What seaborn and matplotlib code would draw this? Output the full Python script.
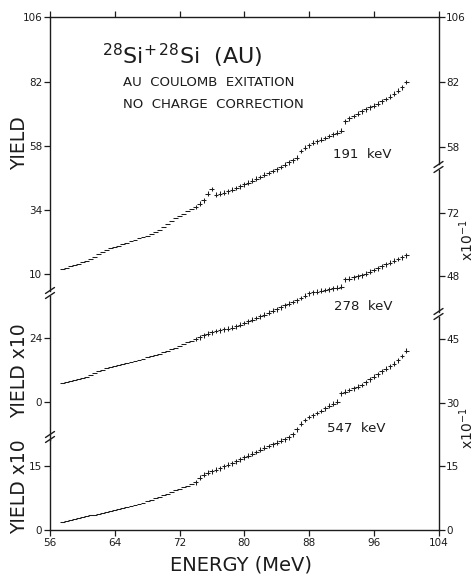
import numpy as np
import pandas as pd
import matplotlib
matplotlib.use("Agg")
import matplotlib.pyplot as plt
from matplotlib.lines import Line2D
import seaborn as sns

# ---------------- data ----------------
energy = [57.5, 58.0, 58.5, 59.0, 59.5, 60.0, 60.5, 61.0, 61.5, 62.0,
          62.5, 63.0, 63.5, 64.0, 64.5, 65.0, 65.5, 66.0, 66.5, 67.0,
          67.5, 68.0, 68.5, 69.0, 69.5, 70.0, 70.5, 71.0, 71.5, 72.0,
          72.5, 73.0, 73.5, 74.0, 74.5, 75.0, 75.5, 76.0, 76.5, 77.0,
          77.5, 78.0, 78.5, 79.0, 79.5, 80.0, 80.5, 81.0, 81.5, 82.0,
          82.5, 83.0, 83.5, 84.0, 84.5, 85.0, 85.5, 86.0, 86.5, 87.0,
          87.5, 88.0, 88.5, 89.0, 89.5, 90.0, 90.5, 91.0, 91.5, 92.0,
          92.5, 93.0, 93.5, 94.0, 94.5, 95.0, 95.5, 96.0, 96.5, 97.0,
          97.5, 98.0, 98.5, 99.0, 99.5, 100.0]

yield_191 = [11.8, 12.3, 12.9, 13.4, 13.8, 14.5, 15.0, 15.6, 16.4, 17.3,
             18.2, 19.0, 19.6, 20.1, 20.6, 21.2, 21.6, 22.2, 22.7, 23.3,
             23.8, 24.4, 25.0, 25.6, 26.6, 27.7, 28.8, 29.8, 30.8, 31.7,
             32.5, 33.4, 34.2, 35.1, 36.3, 37.5, 40.0, 41.8, 39.6, 40.0,
             40.4, 40.9, 41.5, 42.2, 42.8, 43.5, 44.2, 44.9, 45.6, 46.3,
             47.1, 47.8, 48.5, 49.2, 50.0, 50.9, 51.8, 52.6, 53.5, 56.0,
             57.2, 58.2, 59.1, 59.7, 60.3, 60.9, 61.6, 62.2, 62.9, 63.6,
             67.2, 68.2, 69.1, 70.0, 70.8, 71.6, 72.3, 73.0, 73.7, 74.6,
             75.5, 76.4, 77.4, 78.5, 79.8, 81.8]

yield_278 = [7.3, 7.6, 7.9, 8.3, 8.7, 9.1, 9.5, 10.2, 10.9, 11.5,
             12.0, 12.6, 13.0, 13.4, 13.8, 14.2, 14.5, 14.9, 15.3, 15.8,
             16.2, 16.7, 17.1, 17.6, 18.1, 18.6, 19.2, 19.7, 20.3, 20.9,
             21.7, 22.4, 23.0, 23.6, 24.3, 25.0, 25.6, 26.2, 26.6, 26.9,
             27.2, 27.5, 27.8, 28.4, 29.0, 29.6, 30.2, 30.9, 31.5, 32.1,
             32.8, 33.5, 34.2, 34.8, 35.5, 36.2, 36.9, 37.5, 38.2, 39.0,
             39.9, 40.7, 41.1, 41.4, 41.7, 42.0, 42.3, 42.6, 42.9, 43.3,
             46.0, 46.3, 46.7, 47.1, 47.5, 48.1, 48.8, 49.5, 50.2, 50.9,
             51.6, 52.3, 53.0, 53.6, 54.2, 55.0]

yield_547 = [1.9, 2.1, 2.3, 2.5, 2.7, 3.0, 3.2, 3.4, 3.6, 3.8,
             4.0, 4.3, 4.5, 4.8, 5.0, 5.2, 5.4, 5.6, 5.9, 6.1,
             6.4, 6.7, 7.1, 7.4, 7.7, 8.1, 8.5, 8.9, 9.3, 9.7,
             10.1, 10.4, 10.8, 11.2, 12.3, 13.0, 13.4, 13.8, 14.1, 14.5,
             14.9, 15.3, 15.6, 16.1, 16.6, 17.0, 17.4, 17.9, 18.3, 18.8,
             19.3, 19.7, 20.1, 20.5, 20.9, 21.3, 21.7, 22.4, 23.6, 24.9,
             25.8, 26.5, 26.9, 27.4, 27.9, 28.5, 29.1, 29.6, 30.1, 32.0,
             32.4, 32.8, 33.2, 33.6, 34.0, 34.6, 35.3, 35.9, 36.5, 37.2,
             37.8, 38.4, 39.0, 39.8, 40.8, 42.0]

x_ticks = [56, 64, 72, 80, 88, 96, 104]
top_left_ticks = [10, 34, 58, 82, 106]
top_right_ticks = [58, 82, 106]
mid_left_ticks = [0, 24]
mid_right_ticks = [48, 72]
bot_left_ticks = [0, 15]
bot_right_ticks = [0, 15, 30, 45]

# ---------------- layout ----------------
W, H = 476, 575
L, R, T, B = 50.0, 438.5, 17.0, 530.0
INK = "#1c1c1c"
sns.set_theme(style="white")
plt.rcParams["font.family"] = ["DejaVu Sans"]
plt.rcParams["mathtext.fontset"] = "dejavusans"

fig = plt.figure(figsize=(W / 100, H / 100), dpi=100)
fig.patch.set_facecolor("white")
pos = [L / W, 1 - B / H, (R - L) / W, (B - T) / H]


def lim_from(py1, v1, py2, v2):
    s = (v1 - v2) / (py2 - py1)
    return (v1 - (B - py1) * s, v1 + (py1 - T) * s)


def val_at(lim, py):
    return lim[0] + (B - py) / (B - T) * (lim[1] - lim[0])


def side_axis(name, ylim, side, ticks, ybreak_lo, ybreak_hi):
    ax = fig.add_axes(pos, label=name)
    ax.set_xlim(56, 104)
    ax.set_ylim(*ylim)
    ax.patch.set_visible(False)
    for k, sp in ax.spines.items():
        sp.set_visible(k == side)
        sp.set_color(INK)
        sp.set_linewidth(1.0)
    lo = ylim[0] if ybreak_lo is None else val_at(ylim, ybreak_lo)
    hi = ylim[1] if ybreak_hi is None else val_at(ylim, ybreak_hi)
    ax.spines[side].set_bounds(lo, hi)
    ax.yaxis.set_ticks_position(side)
    ax.set_yticks(ticks)
    ax.set_yticklabels([str(t) for t in ticks])
    ax.set_xticks([])
    ax.tick_params(axis="y", direction="out", length=4, width=0.9,
                   labelsize=7.5, pad=1.5, colors=INK)
    ax.grid(False)
    return ax


# frame with x axis (top and bottom spines)
axx = fig.add_axes(pos, label="xframe")
axx.set_xlim(56, 104)
axx.set_ylim(0, 1)
axx.patch.set_visible(False)
for k, sp in axx.spines.items():
    sp.set_visible(k in ("top", "bottom"))
    sp.set_color(INK)
    sp.set_linewidth(1.0)
axx.set_xticks(x_ticks)
axx.set_xticklabels([str(t) for t in x_ticks])
axx.set_yticks([])
axx.xaxis.set_ticks_position("both")
axx.tick_params(axis="x", direction="out", length=4, width=0.9,
                labelsize=7.5, pad=2, colors=INK, top=True, labeltop=False)

gap = 2.5
lim_tl = lim_from(274, 10, 17.4, 106)
lim_tr = lim_from(17.4, 106, 147, 58)
lim_ml = lim_from(338, 24, 402, 0)
lim_mr = lim_from(213, 72, 276, 48)
lim_bl = lim_from(466, 15, 530, 0)
lim_br = lim_from(339, 45, 530, 0)

ax_tl = side_axis("tl", lim_tl, "left", top_left_ticks, 293 - gap, None)
ax_tr = side_axis("tr", lim_tr, "right", top_right_ticks, 167 - gap, None)
ax_ml = side_axis("ml", lim_ml, "left", mid_left_ticks, 437 + gap, 293 + gap)
ax_mr = side_axis("mr", lim_mr, "right", mid_right_ticks, 314 - gap, 167 + gap)
ax_bl = side_axis("bl", lim_bl, "left", bot_left_ticks, None, 437 + gap)
ax_br = side_axis("br", lim_br, "right", bot_right_ticks, None, 314 + gap)

# ---------------- data marks ----------------
for ax, vals, lim in ((ax_tl, yield_191, lim_tl),
                      (ax_ml, yield_278, lim_ml),
                      (ax_bl, yield_547, lim_bl)):
    df = pd.DataFrame({"E": energy, "Y": vals})
    df["kind"] = np.where(df["E"] < 74, "dash", "cross")
    sns.scatterplot(data=df, x="E", y="Y", style="kind",
                    markers={"dash": "_", "cross": "+"}, s=12,
                    color=INK, linewidth=0.75, legend=False, ax=ax)
    ax.set_xlim(56, 104)
    ax.set_ylim(*lim)
    ax.set_xlabel("")
    ax.set_ylabel("")
    ax.set_xticks([])

# ---------------- axis-break marks ----------------
def brk(px, py):
    for off in (-gap, gap):
        xs = [(px - 4.5) / W, (px + 4.5) / W]
        ys = [1 - (py + off + 3) / H, 1 - (py + off - 3) / H]
        fig.add_artist(Line2D(xs, ys, color=INK, lw=1.0,
                              transform=fig.transFigure))

brk(L, 293)
brk(L, 437)
brk(R, 167)
brk(R, 314)

# ---------------- texts ----------------
def ftext(px, py, s, **kw):
    fig.text(px / W, 1 - py / H, s, color=INK, **kw)

ftext(102, 64, r"$^{28}$Si$^{+\,28}$Si  (AU)", fontsize=16, ha="left",
      va="baseline")
ftext(123, 86, "AU  COULOMB  EXITATION", fontsize=9.5, ha="left",
      va="baseline")
ftext(123, 108, "NO  CHARGE  CORRECTION", fontsize=9.5, ha="left",
      va="baseline")
ftext(333, 155, "191  keV", fontsize=9.5, ha="left", va="center")
ftext(334, 306, "278  keV", fontsize=9.5, ha="left", va="center")
ftext(327, 429, "547  keV", fontsize=9.5, ha="left", va="center")

ftext(20, 143, "YIELD", fontsize=13.5, rotation=90, ha="center", va="center")
ftext(20, 371, "YIELD x10", fontsize=13.5, rotation=90, ha="center", va="center")
ftext(20, 487, "YIELD x10", fontsize=13.5, rotation=90, ha="center", va="center")
ftext(241, 565, "ENERGY (MeV)", fontsize=14, ha="center", va="center")
ftext(466.5, 240, r"x10$^{-1}$", fontsize=10, rotation=90, ha="center", va="center")
ftext(466.5, 428, r"x10$^{-1}$", fontsize=10, rotation=90, ha="center", va="center")

fig.savefig("out.png", dpi=100, facecolor="white")
